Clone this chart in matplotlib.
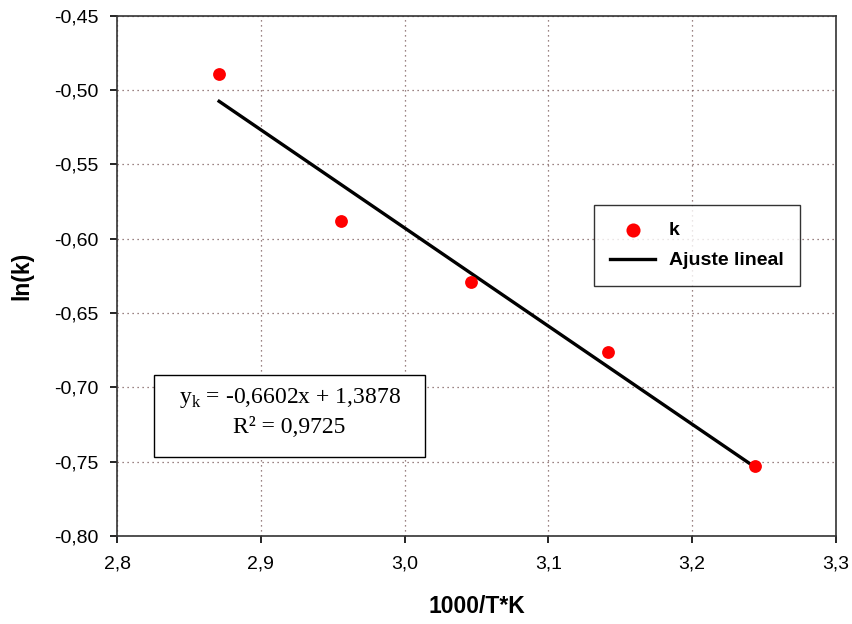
import matplotlib
matplotlib.use("Agg")
import matplotlib.pyplot as plt
import numpy as np
from matplotlib.ticker import FuncFormatter, MultipleLocator
from matplotlib.patches import Rectangle

x_vals = [2.871, 2.956, 3.0465, 3.1417, 3.2437]
k_vals = [-0.489, -0.588, -0.629, -0.676, -0.753]
slope = -0.6602
intercept = 1.3878
eq_text = "y$_\\mathregular{k}$ = -0,6602x + 1,3878\nR² = 0,9725"

plt.rcParams['font.family'] = ['Liberation Sans', 'DejaVu Sans']

fig = plt.figure(figsize=(8.53, 6.24), dpi=100)
ax = fig.add_axes([0.1372, 0.141, 0.8428, 0.834])

ax.scatter(x_vals, k_vals, s=85, color='#ff0000', zorder=3, label='k', linewidths=0)
xf = np.array([min(x_vals), max(x_vals)])
ax.plot(xf, slope * xf + intercept, color='black', lw=2.4, zorder=2, label='Ajuste lineal')

ax.set_xlim(2.8, 3.3)
ax.set_ylim(-0.80, -0.45)
ax.xaxis.set_major_locator(MultipleLocator(0.1))
ax.yaxis.set_major_locator(MultipleLocator(0.05))
ax.xaxis.set_major_formatter(FuncFormatter(lambda v, p: f"{v:.1f}".replace('.', ',')))
ax.yaxis.set_major_formatter(FuncFormatter(lambda v, p: f"{v:.2f}".replace('.', ',')))
ax.grid(True, linestyle=(0, (1, 3)), color='#7a5a5a', lw=0.9)
ax.set_axisbelow(True)
ax.tick_params(direction='out', length=5, width=1.2, labelsize=14)
ax.tick_params(axis='x', pad=9)
ax.tick_params(axis='y', pad=8)
for s in ax.spines.values():
    s.set_linewidth(1.2)
    s.set_color('#333333')

ax.set_xlabel('1000/T*K', fontsize=16.5, fontweight='bold', labelpad=16)
ax.set_ylabel('ln(k)', fontsize=16.5, fontweight='bold', labelpad=15)

leg = ax.legend(loc='upper left', bbox_to_anchor=(0.6634, 0.636), frameon=True, fancybox=False,
                prop={'weight': 'bold', 'size': 14}, borderpad=0.85, labelspacing=0.65,
                handlelength=2.3, handletextpad=0.7, borderaxespad=0, markerscale=1.1)
leg.get_frame().set_edgecolor('black')
leg.get_frame().set_linewidth(1.0)

ax.add_patch(Rectangle((0.0515, 0.1518), 0.3769, 0.1575, transform=ax.transAxes,
                       fc='white', ec='black', lw=1.0, zorder=4))
ax.text(0.240, 0.2383, eq_text, transform=ax.transAxes, ha='center', va='center',
        family='Liberation Serif', fontsize=17, linespacing=1.38, zorder=5)

fig.savefig('out.png', dpi=100)
